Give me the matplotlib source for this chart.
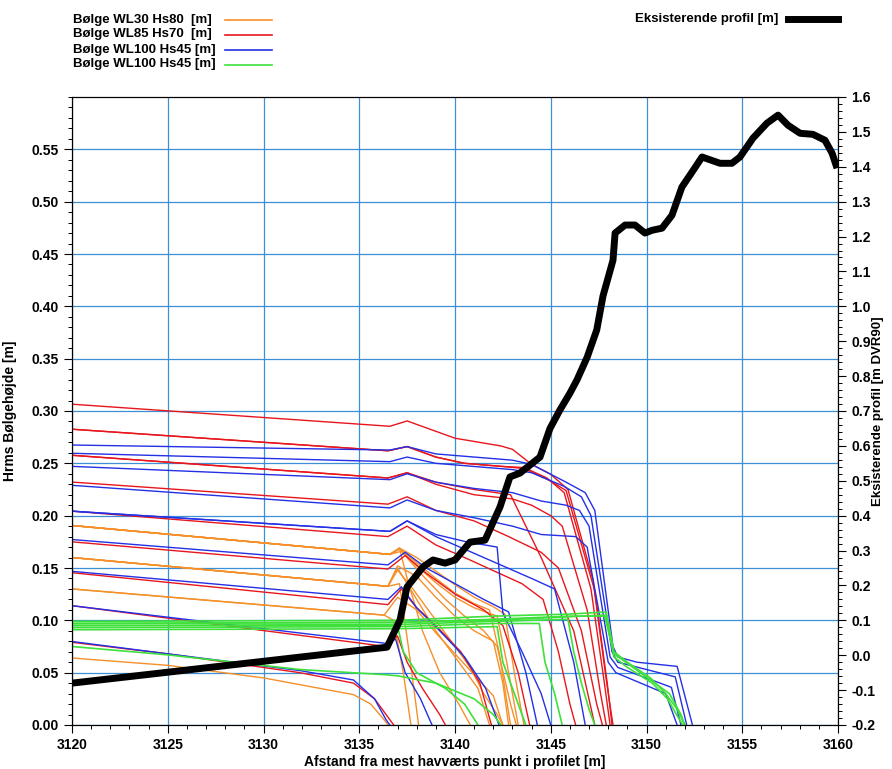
import matplotlib
matplotlib.use("Agg")
import matplotlib.pyplot as plt
from matplotlib.lines import Line2D
from matplotlib.ticker import MultipleLocator, FormatStrFormatter

plt.rcParams["font.family"] = ["Liberation Sans Narrow", "Liberation Sans", "DejaVu Sans"]
plt.rcParams["font.weight"] = "bold"
plt.rcParams["axes.labelweight"] = "bold"

# --- eksisterende profil (kote, m DVR90) ---------------------------------------
prof_x = [3120, 3136.45, 3137.13, 3137.49, 3138.33, 3138.85, 3139.48, 3140.0,
          3140.78, 3141.57, 3142.35, 3142.87, 3143.39, 3144.44, 3144.96, 3145.48,
          3146.0, 3146.37, 3146.9, 3147.4, 3147.73, 3148.25, 3148.36, 3148.88,
          3149.40, 3149.92, 3150.29, 3150.81, 3151.33, 3151.85, 3152.38, 3152.90,
          3153.84, 3154.46, 3154.88, 3155.56, 3156.29, 3156.87, 3157.39, 3158.02,
          3158.69, 3159.32, 3159.69, 3159.95]
prof_z = [-0.080, 0.023, 0.101, 0.195, 0.253, 0.273, 0.264, 0.273,
          0.324, 0.330, 0.425, 0.511, 0.522, 0.568, 0.650, 0.703,
          0.751, 0.789, 0.854, 0.932, 1.030, 1.132, 1.210, 1.233,
          1.233, 1.210, 1.218, 1.224, 1.261, 1.342, 1.385, 1.428,
          1.410, 1.410, 1.428, 1.482, 1.525, 1.548, 1.519, 1.496,
          1.493, 1.476, 1.439, 1.396]

# --- Hrms langs profilet, (afstand, Hrms) --------------------------------------
wl30_hs80 = [
    [(3120, .1906), (3136.6, .163), (3137.1, .169), (3138, .160), (3139, .147),
     (3140, .134), (3141, .122), (3142, .113), (3142.6, .106), (3143.1, .050), (3143.6, 0)],
    [(3120, .1906), (3136.6, .163), (3137.1, .169), (3138, .155), (3139, .140),
     (3140, .126), (3141, .116), (3141.8, .110), (3142.3, .070), (3142.9, 0)],
    [(3120, .1906), (3136.6, .163), (3137.1, .168), (3138, .152), (3139, .136),
     (3140, .122), (3141, .112), (3142.2, .104), (3142.7, .060), (3143.3, 0)],
    [(3120, .1906), (3136.6, .163), (3137.2, .166), (3138.2, .145), (3139.5, .120),
     (3140.5, .104), (3141.5, .090), (3142.2, .075), (3142.9, .020), (3143.2, 0)],
    [(3120, .1906), (3136.6, .163), (3137.1, .169), (3137.5, .140), (3138.3, .090),
     (3139.2, .050), (3140.2, .020), (3140.8, 0)],
    [(3120, .160), (3136.5, .1325), (3137, .152), (3138, .142), (3139, .122),
     (3140, .104), (3141, .090), (3142, .080), (3142.5, .040), (3142.8, 0)],
    [(3120, .160), (3136.5, .1325), (3137.1, .135), (3137.6, .070), (3138.1, 0)],
    [(3120, .160), (3136.5, .1325), (3137, .150), (3138, .120), (3139, .090),
     (3140.2, .060), (3141.2, .035), (3141.8, 0)],
    [(3120, .160), (3136.5, .1325), (3137, .148), (3137.8, .130), (3138.8, .105),
     (3139.8, .080), (3140.8, .055), (3141.5, .030), (3142.2, .010), (3142.5, 0)],
    [(3120, .130), (3136.3, .105), (3137, .122), (3138, .110), (3139, .088),
     (3140, .068), (3141, .048), (3142, .028), (3142.5, 0)],
    [(3120, .130), (3136.3, .105), (3136.8, .100), (3137.3, .050), (3137.7, 0)],
    [(3120, .064), (3125, .057), (3130, .045), (3134.7, .029), (3135.6, .020), (3136.3, .005),
     (3136.5, 0)],
]

wl85_hs70 = [
    [(3120, .3065), (3136.6, .2854), (3137.5, .2905), (3140, .274), (3142.4, .2666),
     (3143, .2634), (3144, .249), (3145, .2395), (3145.9, .225), (3147.2, .139), (3147.9, .043),
     (3148.25, 0)],
    [(3120, .2826), (3136.5, .262), (3137.5, .266), (3139, .256), (3140.5, .250),
     (3142.5, .247), (3143.6, .246), (3144.8, .236), (3145.7, .222), (3147.1, .130), (3147.8, .040),
     (3148.1, 0)],
    [(3120, .2826), (3136.5, .262), (3137.5, .266), (3139, .256), (3140.5, .250),
     (3142.5, .247), (3143.6, .245), (3144.9, .234), (3145.8, .224), (3147.3, .128), (3147.95, .040),
     (3148.2, 0)],
    [(3120, .2577), (3136.5, .236), (3137.5, .241), (3139, .230), (3141, .220),
     (3143, .216), (3144, .210), (3145, .200), (3145.6, .190), (3146.9, .110), (3147.6, .030),
     (3147.9, 0)],
    [(3120, .2577), (3136.5, .236), (3137.5, .241), (3139, .232), (3141, .225),
     (3142.9, .220), (3144.5, .160), (3146.2, .090), (3147.3, 0)],
    [(3120, .2321), (3136.5, .211), (3137.5, .218), (3139, .205), (3141, .195),
     (3142.8, .180), (3144.5, .165), (3145.4, .150), (3146.6, .090), (3147.4, .020), (3147.7, 0)],
    [(3120, .2043), (3136.5, .180), (3137.5, .190), (3139, .172), (3140.5, .160),
     (3142.3, .145), (3143.5, .135), (3144.6, .120), (3145.4, .070), (3146, .020), (3146.3, 0)],
    [(3120, .175), (3136.5, .149), (3137.4, .162), (3138.5, .145), (3140, .125),
     (3141.5, .110), (3142.5, .095), (3143.3, .050), (3143.9, 0)],
    [(3120, .1455), (3136.5, .115), (3137.2, .130), (3138, .112), (3139, .095),
     (3140.3, .070), (3141.3, .040), (3141.9, 0)],
    [(3120, .114), (3136.4, .075), (3137, .085), (3137.5, .060), (3138.3, .035),
     (3139.2, .010), (3139.5, 0)],
    [(3120, .079), (3125, .068), (3131.9, .050), (3134.7, .040), (3135.8, .025), (3136.6, .005),
     (3136.8, 0)],
]

wl100_hs45_a = [
    [(3120, .2675), (3136.6, .2627), (3137.5, .266), (3139, .259), (3141, .256),
     (3143, .253), (3144, .249), (3145.8, .232), (3146.8, .222), (3147.3, .205), (3148.25, .075),
     (3148.5, .065), (3149.5, .060), (3151.6, .056), (3152.4, 0)],
    [(3120, .2596), (3136.6, .2516), (3137.5, .256), (3139, .250), (3141, .247),
     (3143, .244), (3144, .241), (3145.7, .228), (3146.6, .218), (3147.1, .200), (3148.2, .070),
     (3148.5, .060), (3151.5, .046), (3152.1, 0)],
    [(3120, .2471), (3136.6, .2344), (3137.5, .240), (3139, .232), (3141, .226),
     (3143, .222), (3144.5, .214), (3145.8, .210), (3146.5, .205), (3147, .190), (3148.1, .065),
     (3148.5, .055), (3151.3, .036), (3151.8, 0)],
    [(3120, .229), (3136.6, .2074), (3137.5, .215), (3139, .205), (3141, .198),
     (3143, .190), (3144.5, .182), (3146.3, .180), (3146.9, .170), (3148, .060), (3148.4, .050),
     (3151, .030), (3151.6, 0)],
    [(3120, .2043), (3136.6, .185), (3137.5, .195), (3139, .180), (3140.5, .168),
     (3142.5, .152), (3144, .140), (3145.2, .130), (3146.2, .060), (3146.8, 0)],
    [(3120, .2043), (3136.6, .185), (3137.5, .195), (3139, .182), (3140.6, .175),
     (3142.2, .170), (3142.5, .107), (3143.5, .070), (3144.5, .030), (3145, 0)],
    [(3120, .1772), (3136.5, .153), (3137.4, .165), (3138.5, .150), (3140, .135),
     (3141.5, .120), (3142.8, .108), (3143.7, .050), (3144.3, 0)],
    [(3120, .1468), (3136.5, .120), (3137.2, .132), (3138, .112), (3139.2, .090),
     (3140.5, .065), (3141.6, .035), (3142.3, 0)],
    [(3120, .114), (3136.4, .078), (3136.9, .082), (3137.4, .050), (3138.2, .025),
     (3138.8, 0)],
    [(3120, .0798), (3125, .068), (3131.9, .052), (3134.7, .043), (3135.8, .025), (3136.4, .005),
     (3136.6, 0)],
]

wl100_hs45_b = [
    [(3120, .099), (3137, .100), (3142, .104), (3146, .106), (3147.9, .108),
     (3148.3, .070), (3149, .060), (3150.2, .045), (3151, .030), (3151.6, .015), (3152, 0)],
    [(3120, .097), (3137, .098), (3142, .101), (3146, .104), (3147.9, .104), (3148.3, .065),
     (3149, .055), (3150.3, .040), (3151.1, .025), (3151.5, .012), (3151.9, 0)],
    [(3120, .097), (3137, .098), (3142, .100), (3147.8, .105), (3148.3, .068), (3151.2, .030),
     (3151.8, .010), (3152, 0)],
    [(3120, .095), (3137, .096), (3142, .099), (3145.9, .101), (3146.2, .070), (3146.6, .040),
     (3147, .015), (3147.3, 0)],
    [(3120, .093), (3137, .094), (3142, .097), (3144.4, .097), (3144.7, .060), (3145.2, .030),
     (3145.6, 0)],
    [(3120, .091), (3137, .092), (3142.2, .094), (3142.5, .060), (3143, .035), (3143.7, 0)],
    [(3120, .095), (3137, .095), (3137.3, .070), (3138, .050), (3139.5, .035), (3140.5, .020),
     (3141.2, 0)],
    [(3120, .075), (3125, .067), (3131.9, .053), (3136.4, .048), (3137, .047), (3139, .040),
     (3141, .025), (3142, .010), (3142.4, 0)],
]

series = [
    ("Bølge WL30 Hs80  [m]", wl30_hs80, "#f5902a", 1.0),
    ("Bølge WL85 Hs70  [m]", wl85_hs70, "#e8161c", 1.0),
    ("Bølge WL100 Hs45 [m]", wl100_hs45_a, "#2430e6", 1.0),
    ("Bølge WL100 Hs45 [m]", wl100_hs45_b, "#3ee03a", 1.2),
]

grid_col = "#3d8fd6"

fig = plt.figure(figsize=(8.92, 7.69), dpi=100)
ax = fig.add_axes([72 / 892, 44 / 769, 766 / 892, 628 / 769])

for label, lines, col, lw in series:
    for pts in lines:
        xs = [p[0] for p in pts]
        ys = [p[1] for p in pts]
        ax.plot(xs, ys, color=col, lw=lw, zorder=2)

ax.set_xlim(3120, 3160)
ax.set_ylim(0, 0.6)
ax.xaxis.set_major_locator(MultipleLocator(5))
ax.xaxis.set_minor_locator(MultipleLocator(1))
ax.set_yticks([v / 100 for v in range(0, 60, 5)])
ax.yaxis.set_minor_locator(MultipleLocator(0.01))
ax.yaxis.set_major_formatter(FormatStrFormatter("%.2f"))
ax.grid(True, which="major", color=grid_col, lw=0.9)
ax.set_axisbelow(True)
ax.tick_params(which="major", length=6, width=0.8, labelsize=10)
ax.tick_params(which="minor", length=3, width=0.7)
ax.set_xlabel("Afstand fra mest havværts punkt i profilet [m]", fontsize=10, labelpad=2)
ax.set_ylabel("Hrms Bølgehøjde [m]", fontsize=10)
ax.yaxis.set_label_coords(-0.072, 0.5)

ax2 = ax.twinx()
ax2.plot(prof_x, prof_z, color="black", lw=5, solid_capstyle="butt", zorder=5)
ax2.set_ylim(-0.2, 1.6)
ax2.yaxis.set_major_locator(MultipleLocator(0.1))
ax2.yaxis.set_minor_locator(MultipleLocator(0.02))
ax2.yaxis.set_major_formatter(FormatStrFormatter("%.1f"))
ax2.tick_params(which="major", length=6, width=0.8, labelsize=10)
ax2.tick_params(which="minor", length=3, width=0.7)
ax2.set_ylabel("Eksisterende profil [m DVR90]", fontsize=9.5)
ax2.yaxis.set_label_coords(1.045, 0.5)

# signaturforklaring over plottet
W, H = 892, 769
rows_y = [20, 34.5, 49.5, 64.5]
for (label, lines, col, lw), yy in zip(series, rows_y):
    fig.text(73 / W, 1 - yy / H, label, fontsize=9.5, va="center", ha="left")
    fig.add_artist(Line2D([225 / W, 272 / W], [1 - yy / H, 1 - yy / H], color=col, lw=1.2))
fig.text(778 / W, 1 - 19 / H, "Eksisterende profil [m]", fontsize=9.5, va="center", ha="right")
fig.add_artist(Line2D([788 / W, 838 / W], [1 - 19 / H, 1 - 19 / H], color="black", lw=5))

fig.savefig("out.png", dpi=100)
